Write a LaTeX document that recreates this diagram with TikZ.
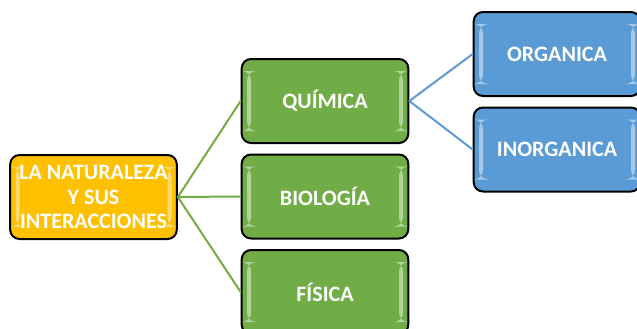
\documentclass[tikz,border=0pt]{standalone}
\usepackage{fontspec}
\setmainfont{Carlito}
\definecolor{naranja}{HTML}{FFC000}
\definecolor{verde}{HTML}{70AD47}
\definecolor{azul}{HTML}{5B9BD5}
\begin{document}
\begin{tikzpicture}[x=0.75pt,y=-0.75pt, font=\fontsize{16.5}{18.5}\selectfont\bfseries, line join=round, line cap=round,
	caja/.style={draw=black, line width=1.5pt, rounded corners=7pt, minimum width=125pt, minimum height=63pt,
		text=white, align=center, inner sep=0pt,
		path picture={
			\fill[white,opacity=.45] ([xshift=4pt,yshift=9pt]path picture bounding box.south west) rectangle ([xshift=7pt,yshift=-9pt]path picture bounding box.north west);
			\fill[white,opacity=.45] ([xshift=-4pt,yshift=9pt]path picture bounding box.south east) rectangle ([xshift=-7pt,yshift=-9pt]path picture bounding box.north east);
		}},
	rama/.style={line width=1.5pt}]
	\useasboundingbox (0,0) rectangle (637,329);
	\clip (0,0) rectangle (637,329);
	\path
	(93.5,197) coordinate (N)
	(325,101) coordinate (Q)
	(325,196.5) coordinate (B)
	(325,292) coordinate (F)
	(557,54) coordinate (O)
	(557,149.5) coordinate (I)
	;
	\node[caja, fill=naranja] (naturaleza) at (N) {LA NATURALEZA\\Y SUS\\INTERACCIONES};
	\foreach \x/\t in {Q/QUÍMICA,B/BIOLOGÍA,F/FÍSICA}
	\node[caja, fill=verde] (\x) at (\x) {\t};
	\foreach \x/\t in {O/ORGANICA,I/INORGANICA}
	\node[caja, fill=azul] (\x) at (\x) {\t};
	\foreach \x in {Q,B,F}
	\draw[rama, verde] (naturaleza.east)--(\x.west);
	\foreach \x in {O,I}
	\draw[rama, azul] (Q.east)--(\x.west);
\end{tikzpicture}
\end{document}
